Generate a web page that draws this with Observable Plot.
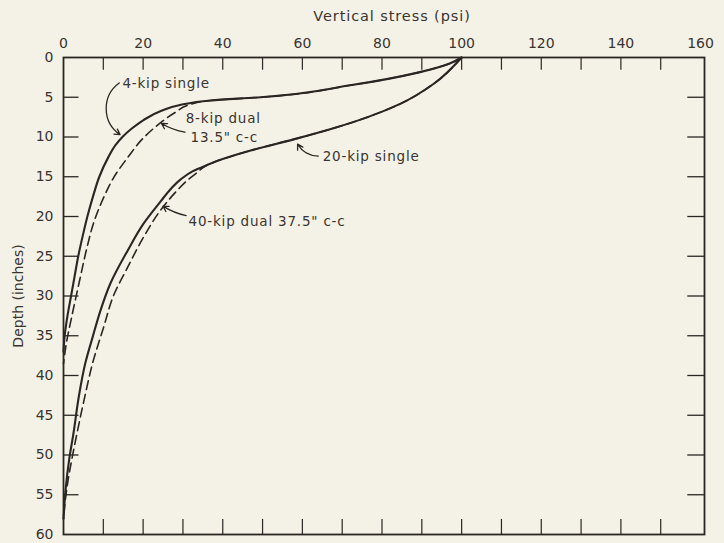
<!DOCTYPE html>
<html>
<head>
<meta charset="utf-8">
<script src="https://cdn.jsdelivr.net/npm/d3@7"></script>
<script src="https://cdn.jsdelivr.net/npm/@observablehq/plot@0.6"></script>
<style>
  html, body { margin: 0; padding: 0; background: #f4f2e6; }
  #chart { width: 724px; height: 543px; }
</style>
</head>
<body>
<div id="chart"></div>
<script>
// Vertical stress (psi) vs depth (inches)
const stress4kip  = [100, 97, 89, 72, 49.5, 37, 29, 24.6, 20.0, 17.0, 14.8, 13.1, 11.3, 9.0, 7.4, 6.0, 4.8, 3.7, 2.8, 1.9, 1.0, 0.3, 0];
const depth4kip   = [0, 0.75, 1.9, 3.5, 5.0, 5.4, 6.0, 6.7, 7.9, 9.0, 10.0, 11.0, 12.5, 15.0, 17.5, 20.0, 22.5, 25.0, 27.5, 30.0, 32.5, 35.0, 37];

const stress8kip  = [100, 97, 89, 72, 49.5, 37, 31.9, 28.1, 24.4, 20.1, 16.1, 12.6, 10.1, 7.5, 5.9, 4.2, 3.1, 1.9, 0.7, 0];
const depth8kip   = [0, 0.75, 1.9, 3.5, 5.0, 5.4, 5.9, 6.9, 8.2, 10.1, 12.6, 15.1, 17.6, 20.9, 23.9, 27.7, 30.2, 33.0, 36.0, 38.5];

const stress20kip = [100, 93, 84.7, 76.4, 67.8, 57.8, 47.0, 38.7, 36.2, 32.5, 29.5, 27.0, 24.4, 20.1, 16.1, 11.8, 9.3, 7.3, 5.5, 3.8, 2.5, 1.5, 0.5, 0];
const depth20kip  = [0, 3.3, 5.8, 7.5, 8.9, 10.3, 11.7, 13.0, 13.5, 14.3, 15.3, 16.5, 18.1, 20.9, 24.3, 28.4, 31.8, 35.2, 38.4, 42.8, 47.3, 50.3, 54.5, 58];

const stress40kip = [100, 93, 84.7, 76.4, 67.8, 57.8, 47.0, 38.7, 36.2, 33.5, 31.0, 28.6, 24.4, 20.1, 16.1, 12.6, 10.1, 7.5, 5.2, 3.5, 2.3, 1.2, 0.5, 0];
const depth40kip  = [0, 3.3, 5.8, 7.5, 8.9, 10.3, 11.7, 13.0, 13.5, 14.5, 15.5, 16.7, 19.2, 22.6, 26.4, 29.9, 33.9, 38.1, 43.0, 47.0, 50.0, 53.0, 55.5, 58];

const seriesNames = ["4-kip single", "8-kip dual 13.5\" c-c", "20-kip single", "40-kip dual 37.5\" c-c"];

const xTickLabels = [0, 20, 40, 60, 80, 100, 120, 140, 160];
const xMinorTicks = [10, 20, 30, 40, 50, 60, 70, 80, 90, 100, 110, 120, 130, 140, 150];
const yTickLabels = [0, 5, 10, 15, 20, 25, 30, 35, 40, 45, 50, 55, 60];
const yInnerTicks = [5, 10, 15, 20, 25, 30, 35, 40, 45, 50, 55];

// Annotation labels (data coordinates) and leader arrows
const labelText = ["4-kip single", "8-kip dual", "13.5\" c-c", "20-kip single", "40-kip dual 37.5\" c-c"];
const labelX    = [14.8, 30.7, 31.9, 65.1, 31.4];
const labelY    = [3.3, 7.7, 10.1, 12.5, 20.7];

const leaderX1 = [14.0, 30.5, 64.0, 30.8];
const leaderY1 = [3.2, 9.4, 12.4, 19.9];
const leaderX2 = [14.2, 24.6, 58.8, 25.0];
const leaderY2 = [9.7, 8.3, 10.9, 18.7];
const leaderBend = [-55, 10, 30, 10];

const toRows = (xs, ys, name) => xs.map((v, i) => ({stress: v, depth: ys[i], name}));
const solid = [
  ...toRows(stress4kip, depth4kip, seriesNames[0]),
  ...toRows(stress20kip, depth20kip, seriesNames[2])
];
const dashed = [
  ...toRows(stress8kip, depth8kip, seriesNames[1]),
  ...toRows(stress40kip, depth40kip, seriesNames[3])
];
const labels = labelText.map((t, i) => ({t, x: labelX[i], y: labelY[i]}));
const leaders = leaderX1.map((x1, i) => ({x1, y1: leaderY1[i], x2: leaderX2[i], y2: leaderY2[i], bend: leaderBend[i]}));

const ink = "#2b2623";
const chart = Plot.plot({
  width: 724,
  height: 543,
  marginTop: 57,
  marginLeft: 63,
  marginRight: 20,
  marginBottom: 9,
  style: {background: "#f4f2e6", fontFamily: "DejaVu Sans, sans-serif", fontSize: "14px", color: "#3a3431"},
  x: {domain: [0, 161]},
  y: {domain: [0, 60], reverse: true},
  marks: [
    Plot.axisX(xTickLabels, {anchor: "top", tickSize: 0, tickPadding: 10, label: "Vertical stress (psi)", labelAnchor: "center", labelArrow: "none", labelOffset: 47, fontSize: 14}),
    Plot.axisY(yTickLabels, {anchor: "left", tickSize: 0, tickPadding: 10, label: "Depth (inches)", labelAnchor: "center", labelArrow: "none", labelOffset: 50, fontSize: 14}),
    Plot.ruleX(xMinorTicks, {x: d => d, y1: 0, y2: 1.6, stroke: ink, strokeWidth: 1.2}),
    Plot.ruleX(xMinorTicks, {x: d => d, y1: 58.1, y2: 60, stroke: ink, strokeWidth: 1.2}),
    Plot.ruleY(yInnerTicks, {y: d => d, x1: 0, x2: 3.9, stroke: ink, strokeWidth: 1.3}),
    Plot.ruleY(yInnerTicks, {y: d => d, x1: 156.8, x2: 161, stroke: ink, strokeWidth: 1.3}),
    Plot.frame({stroke: ink, strokeWidth: 1.8}),
    Plot.line(solid, {x: "stress", y: "depth", z: "name", stroke: ink, strokeWidth: 2.1, curve: "monotone-y"}),
    Plot.line(dashed, {x: "stress", y: "depth", z: "name", stroke: ink, strokeWidth: 1.6, strokeDasharray: "9,5", curve: "monotone-y"}),
    ...leaders.map(l => Plot.arrow([l], {x1: "x1", y1: "y1", x2: "x2", y2: "y2", bend: l.bend, stroke: ink, strokeWidth: 1.3, headLength: 7})),
    Plot.text(labels, {x: "x", y: "y", text: "t", textAnchor: "start", fontSize: 13.5, fill: "#3a3431"})
  ]
});
d3.select(chart).selectAll('g[aria-label="text"] text').style("letter-spacing", "0.8px");
d3.select(chart).selectAll('g[aria-label="x-axis label"] text').style("letter-spacing", "0.9px").style("font-size", "14.5px").attr("dx", 8);
document.getElementById("chart").appendChild(chart);
</script>
</body>
</html>
